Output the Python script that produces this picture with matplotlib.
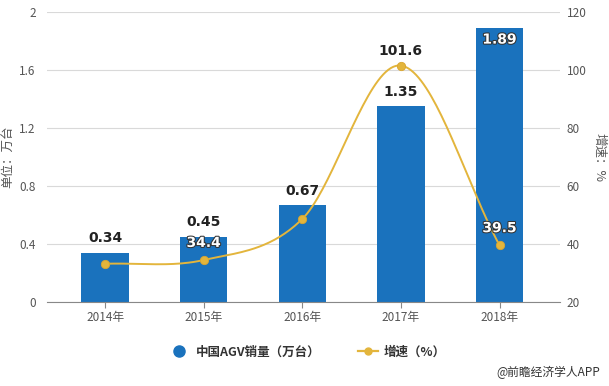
import numpy as np
import matplotlib
matplotlib.use("Agg")
import matplotlib.pyplot as plt
import matplotlib.patheffects as pe
from matplotlib.lines import Line2D

plt.rcParams['font.family'] = ['Noto Sans CJK SC', 'DejaVu Sans']

categories = ['2014年', '2015年', '2016年', '2017年', '2018年']
sales = [0.34, 0.45, 0.67, 1.35, 1.89]
growth = [33.1, 34.4, 48.6, 101.6, 39.5]
growth_labels = [None, '34.4', None, '101.6', '39.5']
left_ticks = [0, 0.4, 0.8, 1.2, 1.6, 2]
right_ticks = [20, 40, 60, 80, 100, 120]

BLUE = '#1a72bd'
GOLD = '#e3b53c'
GRAY = '#555555'

fig = plt.figure(figsize=(6.09, 3.86), dpi=100)
ax = fig.add_axes([0.077, 0.2184, 0.842, 0.7496])
ax2 = ax.twinx()

x = np.arange(len(categories))
ax.bar(x, sales, width=0.48, color=BLUE, zorder=2)
ax.set_xlim(-0.59, 4.61)
ax.set_ylim(0, 2)
ax.set_yticks(left_ticks)
ax.set_yticklabels([f'{v:g}' for v in left_ticks])
ax.grid(axis='y', color='#d9d9d9', linewidth=0.8, zorder=0)
ax.set_axisbelow(True)
for s in ['top', 'right', 'left']:
    ax.spines[s].set_visible(False)
ax.spines['bottom'].set_color('#888888')
ax.set_xticks(x)
ax.set_xticklabels(categories)
ax.tick_params(axis='x', colors='#888888', labelcolor=GRAY, labelsize=8.5, length=4, pad=3)
ax.tick_params(axis='y', length=0, labelcolor=GRAY, labelsize=8.5, pad=8)
ax.set_ylabel('单位：万台', color=GRAY, fontsize=9, labelpad=4)

# bar labels
for i, v in enumerate(sales):
    if i == 4:
        ax.text(i, v - 0.03, f'{v:.2f}', ha='center', va='top', color='white',
                fontsize=10, fontweight='bold', family='DejaVu Sans', zorder=5,
                path_effects=[pe.withStroke(linewidth=1.5, foreground='#333333')])
    else:
        ax.text(i, v + 0.05, f'{v:.2f}', ha='center', va='bottom', color='#222222',
                fontsize=10, fontweight='bold', family='DejaVu Sans', zorder=5)

# smooth growth curve (Catmull-Rom through the data points)
def catmull(px, py, n=40):
    px = np.asarray(px, float); py = np.asarray(py, float)
    P = np.column_stack([px, py])
    P = np.vstack([P[0] - (P[1] - P[0]), P, P[-1] + (P[-1] - P[-2])])
    out = []
    for k in range(1, len(P) - 2):
        p0, p1, p2, p3 = P[k - 1], P[k], P[k + 1], P[k + 2]
        t = np.linspace(0, 1, n)[:, None]
        seg = 0.5 * ((2 * p1) + (-p0 + p2) * t + (2 * p0 - 5 * p1 + 4 * p2 - p3) * t ** 2
                     + (-p0 + 3 * p1 - 3 * p2 + p3) * t ** 3)
        out.append(seg)
    out = np.vstack(out)
    return out[:, 0], out[:, 1]

cx, cy = catmull(x, growth)
ax2.plot(cx, cy, color=GOLD, linewidth=1.4, zorder=3)
ax2.plot(x, growth, 'o', color=GOLD, markersize=6, markeredgecolor='#d9a52e',
         markeredgewidth=0.6, zorder=4)
ax2.set_ylim(20, 120)
ax2.set_yticks(right_ticks)
for s in ['top', 'right', 'left', 'bottom']:
    ax2.spines[s].set_visible(False)
ax2.tick_params(axis='y', length=0, labelcolor=GRAY, labelsize=8.5, pad=5)
ax2.set_ylabel('增速：%', color=GRAY, fontsize=9, rotation=270, labelpad=14)

for i, lab in enumerate(growth_labels):
    if lab is None:
        continue
    if i == 3:
        ax2.text(i, growth[i] + 2.5, lab, ha='center', va='bottom', color='#222222',
                 fontsize=10, fontweight='bold', family='DejaVu Sans', zorder=6)
    else:
        ax2.text(i, growth[i] + 3.5, lab, ha='center', va='bottom', color='white',
                 fontsize=10, fontweight='bold', family='DejaVu Sans', zorder=6,
                 path_effects=[pe.withStroke(linewidth=1.5, foreground='#333333')])

# legend
handles = [
    Line2D([], [], marker='o', linestyle='none', color=BLUE, markersize=8),
    Line2D([], [], marker='o', color=GOLD, linewidth=1.6, markersize=5),
]
leg = fig.legend(handles, ['中国AGV销量（万台）', '增速（%）'], loc='center',
                 bbox_to_anchor=(0.505, 0.088), ncol=2, frameon=False,
                 prop={'weight': 'bold', 'size': 9}, columnspacing=3.0,
                 handlelength=1.6, handletextpad=0.5)
for t in leg.get_texts():
    t.set_color('#333333')

fig.text(0.985, 0.035, '@前瞻经济学人APP', ha='right', va='center',
         color='#333333', fontsize=8.5)

fig.savefig('out.png', dpi=100)
